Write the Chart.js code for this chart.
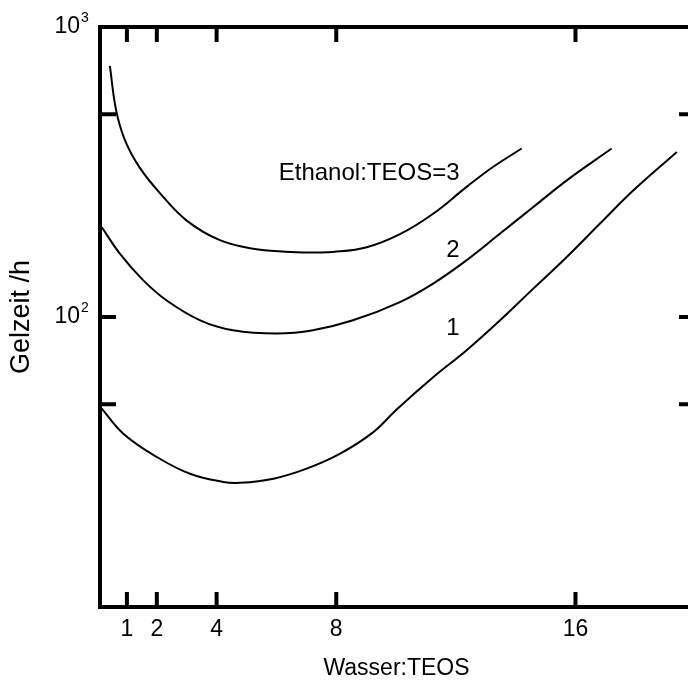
<!DOCTYPE html>
<html>
<head>
<meta charset="utf-8">
<script src="https://cdn.jsdelivr.net/npm/chart.js@4.4.1/dist/chart.umd.min.js"></script>
<style>
  html, body { margin: 0; padding: 0; background: #fff; overflow: hidden; }
  #wrap { width: 700px; height: 680px; }
</style>
</head>
<body>
<div id="wrap"><canvas id="gel" width="700" height="680"></canvas></div>
<script>
// Gelzeit against Wasser:TEOS, one curve per Ethanol:TEOS ratio
const wasser3 = [0.43, 0.64, 0.94, 1.44, 2.11, 3.00, 4.11, 5.22, 6.30, 7.22, 7.89, 9.02, 10.13, 11.24, 12.36, 13.24, 14.20];
const gelzeit3 = [734, 516, 406, 326, 267, 215, 184, 172, 168, 167, 167.5, 174, 193, 227, 281, 329, 381];

const wasser2 = [0.16, 0.77, 1.54, 2.33, 3.45, 4.55, 6.01, 7.22, 8.56, 10.13, 11.24, 12.36, 13.48, 14.58, 15.71, 17.21];
const gelzeit2 = [204, 165, 134, 114, 97.4, 90, 87.7, 90, 97.4, 112.6, 130.4, 157, 194, 239, 296, 381];

const wasser1 = [0.16, 0.88, 2.00, 3.11, 4.22, 4.78, 5.90, 7.01, 8.13, 9.24, 10.02, 11.25, 12.36, 13.48, 14.58, 15.71, 16.82, 17.93, 19.39];
const gelzeit1 = [48.3, 39.6, 32.9, 28.8, 27.0, 26.8, 27.7, 30.0, 33.8, 40.1, 48.0, 62.1, 76.8, 97.4, 125, 161, 210, 273, 371];

const xTicks = [1, 2, 4, 8, 16];
const yTickMarks = [50, 100, 500];
// decade labels: base "10" with a raised exponent
const yLabelValues = [100, 1000];
const yLabelExp = ['2', '3'];

// curve captions, placed in data units
const noteText = ['Ethanol:TEOS=3', '2', '1'];
const noteX = [9.1, 11.9, 11.9];
const noteY = [313, 170, 91.4];

const FONT = '"Liberation Sans", Arial, sans-serif';

function pairs(xs, ys) {
  return xs.map((v, i) => ({ x: v, y: ys[i] }));
}

function curve(xs, ys) {
  return {
    data: pairs(xs, ys),
    showLine: true,
    borderColor: '#000',
    borderWidth: 2,
    pointRadius: 0,
    tension: 0.4,
    fill: false
  };
}

// box frame with inward tick marks, decade labels and curve captions
const framePlugin = {
  id: 'frame',
  afterDatasetsDraw(chart) {
    const { ctx, chartArea: a, scales: { x, y } } = chart;
    ctx.save();
    ctx.strokeStyle = '#000';
    ctx.lineWidth = 4;
    ctx.strokeRect(a.left, a.top, a.right - a.left, a.bottom - a.top);

    ctx.beginPath();
    xTicks.forEach(v => {
      const px = x.getPixelForValue(v);
      ctx.moveTo(px, a.bottom);
      ctx.lineTo(px, a.bottom - 15);
      ctx.moveTo(px, a.top);
      ctx.lineTo(px, a.top + 15);
    });
    yTickMarks.forEach(v => {
      const py = y.getPixelForValue(v);
      ctx.moveTo(a.left, py);
      ctx.lineTo(a.left + 16, py);
      ctx.moveTo(a.right, py);
      ctx.lineTo(a.right - 14, py);
    });
    ctx.stroke();

    ctx.fillStyle = '#000';
    ctx.textBaseline = 'middle';
    yLabelValues.forEach((v, i) => {
      const py = y.getPixelForValue(v);
      ctx.font = '23px ' + FONT;
      ctx.textAlign = 'right';
      ctx.fillText('10', a.left - 20, py);
      ctx.font = '14px ' + FONT;
      ctx.textAlign = 'left';
      ctx.fillText(yLabelExp[i], a.left - 19, py - 9);
    });

    ctx.textAlign = 'center';
    ctx.font = '24px ' + FONT;
    noteText.forEach((t, i) => {
      ctx.fillText(t, x.getPixelForValue(noteX[i]), y.getPixelForValue(noteY[i]));
    });
    ctx.restore();
  }
};

Chart.defaults.font.family = FONT;
Chart.defaults.color = '#000';

new Chart(document.getElementById('gel').getContext('2d'), {
  type: 'scatter',
  data: {
    datasets: [
      curve(wasser3, gelzeit3),
      curve(wasser2, gelzeit2),
      curve(wasser1, gelzeit1)
    ]
  },
  options: {
    responsive: false,
    animation: false,
    devicePixelRatio: 1,
    layout: { padding: { top: 27, right: 7, left: 0, bottom: 0 } },
    plugins: {
      legend: { display: false },
      tooltip: { enabled: false }
    },
    scales: {
      x: {
        type: 'linear',
        min: 0.1,
        max: 19.93,
        afterBuildTicks: s => { s.ticks = xTicks.map(v => ({ value: v })); },
        afterFit: s => { s.height = 73; },
        grid: { display: false },
        border: { display: false },
        ticks: {
          color: '#000',
          padding: 1,
          maxRotation: 0,
          font: { size: 23 },
          callback: v => String(v)
        },
        title: {
          display: true,
          text: 'Wasser:TEOS',
          color: '#000',
          font: { size: 23, lineHeight: 1 },
          padding: { top: 0, bottom: 0 }
        }
      },
      y: {
        type: 'logarithmic',
        min: 10,
        max: 1000,
        afterFit: s => { s.width = 100; },
        grid: { display: false },
        border: { display: false },
        ticks: { display: false },
        title: {
          display: true,
          text: 'Gelzeit /h',
          color: '#000',
          font: { size: 27, lineHeight: 1 },
          padding: { top: 8.5, bottom: 0 }
        }
      }
    }
  },
  plugins: [framePlugin]
});
</script>
</body>
</html>
